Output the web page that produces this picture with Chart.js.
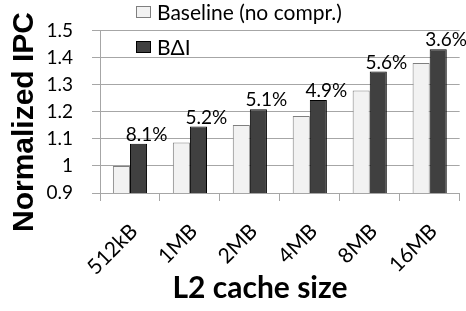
<!DOCTYPE html>
<html lang="en">
<head>
  <meta charset="utf-8" />
  <title>Normalized IPC vs L2 cache size</title>
  <style>
body { margin: 0; background: #fff; }
#box { width: 466px; height: 311px; }
  </style>
</head>
<body>
  <div id="box">
    <canvas id="myChart" width="466" height="311"></canvas>
  </div>
  <script src="https://cdn.jsdelivr.net/npm/chart.js"></script>
  <script>

// data
const categories = ['512kB', '1MB', '2MB', '4MB', '8MB', '16MB'];
const baseline = [1.000, 1.086, 1.151, 1.184, 1.278, 1.380];
const bdi = [1.082, 1.145, 1.209, 1.243, 1.348, 1.430];
const gainLabels = ['8.1%', '5.2%', '5.1%', '4.9%', '5.6%', '3.6%'];
const yTickLabels = ['0.9', '1', '1.1', '1.2', '1.3', '1.4', '1.5'];
const seriesNames = ['Baseline (no compr.)', 'B\u0394I'];
const xTitle = 'L2 cache size';
const yTitle = 'Normalized IPC';

const SANS = 'Lato, "Open Sans", sans-serif';
const GRID = '#a6a6a6';

// legend, percent labels and axis titles, drawn on the canvas
const extras = {
  id: 'extras',
  afterDraw(chart) {
    const ctx = chart.ctx;
    ctx.save();
    // percent labels above the BΔI bars
    const meta = chart.getDatasetMeta(1);
    ctx.font = '19px ' + SANS;
    ctx.fillStyle = '#000';
    ctx.textAlign = 'center';
    ctx.textBaseline = 'alphabetic';
    meta.data.forEach((bar, i) => {
      ctx.fillText(gainLabels[i], bar.x + 8, bar.y - 3);
    });
    // legend
    const ds = chart.data.datasets;
    ctx.font = '21px ' + SANS;
    ctx.textAlign = 'left';
    ctx.textBaseline = 'middle';
    const rows = [12, 47];
    ds.forEach((d, i) => {
      const y = rows[i];
      ctx.fillStyle = d.backgroundColor;
      ctx.strokeStyle = d.borderColor;
      ctx.lineWidth = 1;
      ctx.fillRect(136, y - 6, 15, 12);
      ctx.strokeRect(136.5, y - 5.5, 14, 11);
      ctx.fillStyle = '#000';
      ctx.fillText(seriesNames[i], 157, y + 1);
    });
    // x axis title
    ctx.font = 'bold 30px ' + SANS;
    ctx.textAlign = 'center';
    ctx.textBaseline = 'alphabetic';
    ctx.fillText(xTitle, 260, 298);
    // y axis title (rotated)
    ctx.translate(33, 122);
    ctx.rotate(-Math.PI / 2);
    ctx.font = 'bold 30px "Liberation Sans", Arial, sans-serif';
    ctx.fillText(yTitle, 0, 0);
    ctx.restore();
  }
};

const config = {
  type: 'bar',
  data: {
    labels: categories,
    datasets: [{
      label: seriesNames[0],
      data: baseline,
      backgroundColor: '#f2f2f2',
      borderColor: '#7f7f7f',
      borderWidth: 1,
      categoryPercentage: 0.57,
      barPercentage: 1.0
    }, {
      label: seriesNames[1],
      data: bdi,
      backgroundColor: '#404040',
      borderColor: '#000000',
      borderWidth: 1,
      categoryPercentage: 0.57,
      barPercentage: 1.0
    }]
  },
  options: {
    responsive: false,
    animation: false,
    devicePixelRatio: 1,
    layout: { padding: { top: 28, right: 6, left: 0, bottom: 0 } },
    plugins: {
      legend: { display: false },
      tooltip: { enabled: false }
    },
    scales: {
      x: {
        grid: {
          offset: true,
          drawOnChartArea: false,
          drawTicks: true,
          tickLength: 8,
          color: GRID
        },
        border: { display: false },
        ticks: {
          minRotation: 45,
          maxRotation: 45,
          padding: 18,
          labelOffset: 4,
          color: '#000',
          font: { family: SANS, size: 21 }
        },
        afterFit(scale) { scale.height = 118; }
      },
      y: {
        min: 0.9,
        max: 1.5,
        grid: {
          color: GRID,
          tickLength: 8
        },
        border: { color: GRID },
        ticks: {
          stepSize: 0.1,
          padding: 19,
          color: '#000',
          font: { family: SANS, size: 19 },
          callback: function (value, index) {
            return yTickLabels[index];
          }
        },
        afterFit(scale) { scale.width = 100; }
      }
    }
  },
  plugins: [extras]
};

const chart = new Chart(document.getElementById('myChart'), config);

  </script>
</body>
</html>
